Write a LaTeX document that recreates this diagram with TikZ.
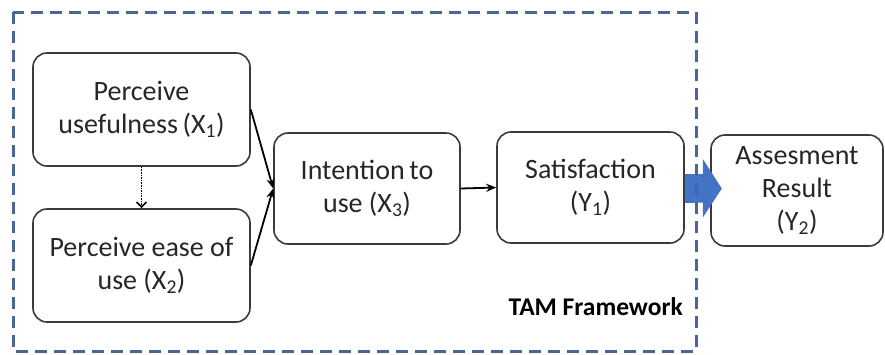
\documentclass[tikz,border=0pt]{standalone}
\usepackage{fontspec}
\setmainfont{Carlito}
\usetikzlibrary{arrows.meta,calc}
\definecolor{framecol}{HTML}{4A6699}
\definecolor{arrowblue}{HTML}{4472C4}
\definecolor{boxline}{HTML}{3A3A3A}
\begin{document}
\begin{tikzpicture}[x=1pt,y=-1pt,
  box/.style={draw=boxline, line width=1.6pt, rounded corners=14pt, align=center,
    font=\fontsize{28}{33}\selectfont, inner sep=0pt, text=black!85},
  conn/.style={line width=1.8pt, -{Stealth[length=10pt,width=8pt]}},
  dotconn/.style={line width=1.6pt, densely dotted, -{Straight Barb[length=5pt,width=10pt,line width=1.6pt]}},
]
\useasboundingbox (0,0) rectangle (885,354);
\node[box, minimum width=217pt, minimum height=113pt] (pu) at (141.5,109.5) {Perceive\\usefulness\,(X\textsubscript{1})};
\node[box, minimum width=217pt, minimum height=113pt] (pe) at (141.5,265.5) {Perceive ease of\\use (X\textsubscript{2})};
\node[box, minimum width=186pt, minimum height=111pt] (it) at (367,188.5) {Intention\,to\\use (X\textsubscript{3})};
\node[box, minimum width=187pt, minimum height=111pt] (sa) at (590.5,187.5) {Satisfaction\\(Y\textsubscript{1})};
\node[box, minimum width=172pt, minimum height=111pt] (as) at (797,190.5) {Assesment\\Result\\(Y\textsubscript{2})};
\draw[conn] (pu.east) -- (it.west);
\draw[conn] (pe.east) -- (it.west);
\draw[conn] (it.east) -- (sa.west);
\draw[dotconn] (pu.south) -- (pe.north);
\fill[arrowblue] ($(sa.east)+(0,-13.5)$) -- ++(18,0) -- ++(0,-15) -- ($(sa.east)+(37,1)$)
  -- ($(sa.east)+(18,30)$) -- ++(0,-15) -- ($(sa.east)+(0,15.5)$) -- cycle;
\draw[framecol, line width=3pt, dash pattern=on 12pt off 7pt] (13,12) rectangle (696,351);
\node[font=\fontsize{25.5}{30}\selectfont\bfseries, anchor=base east, inner sep=0pt] (tam) at (683,315) {TAM Framework};
\end{tikzpicture}
\end{document}
